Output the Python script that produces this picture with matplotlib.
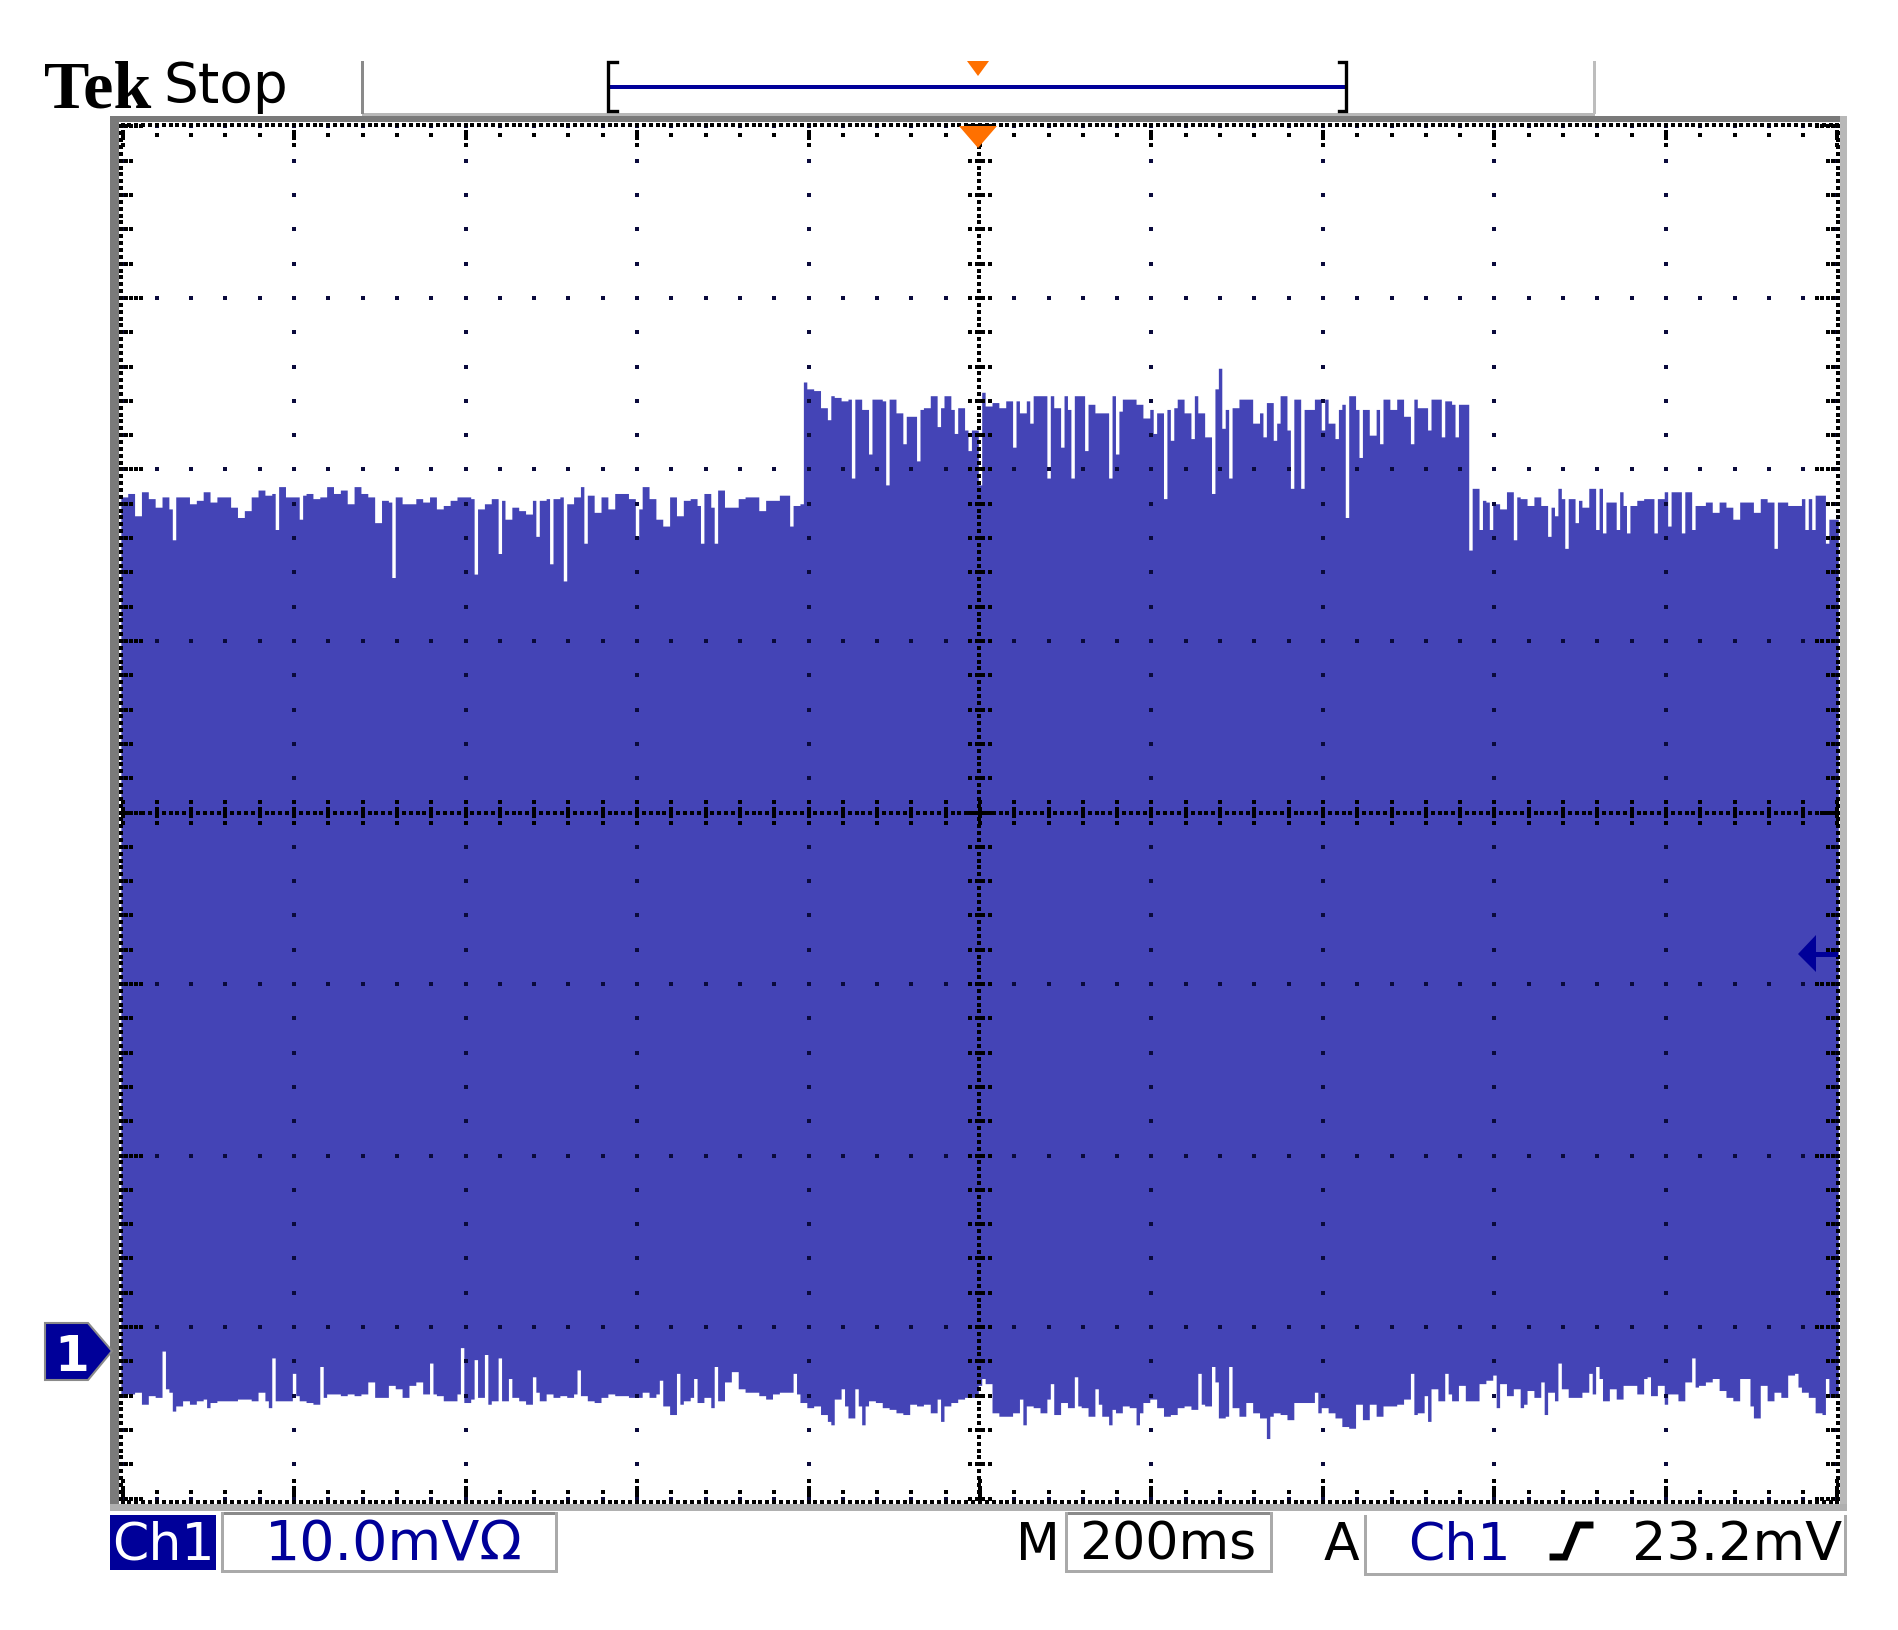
import numpy as np
import matplotlib
matplotlib.use('Agg')
import matplotlib.pyplot as plt
from matplotlib.patches import Polygon, Rectangle

# envelope of the trace, mV from screen centre, one value per 2 display columns
upper_before = [
    18.4,18.6,17.3,18.7,18.3,17.8,18.4,17.7,18.4,18.4,18.0,18.2,18.7,18.1,18.4,18.4,17.8,17.2,17.6,18.4,
    18.8,18.5,18.6,19.0,18.4,18.4,18.5,18.6,18.3,18.4,19.0,18.6,18.8,18.0,19.0,18.6,18.4,16.9,18.2,18.1,
    18.4,18.0,18.0,18.3,18.1,18.4,17.7,17.9,18.2,18.4,18.4,18.3,17.7,18.0,18.3,18.2,17.1,17.8,17.6,17.4,
    18.2,18.2,18.3,18.3,18.4,18.0,18.4,19.0,18.5,17.5,18.4,17.7,18.6,18.6,18.3,17.7,19.0,18.3,17.1,16.7,
    18.4,17.3,18.2,18.3,17.9,18.6,17.8,18.8,17.8,17.8,18.3,18.4,18.4,17.6,18.2,18.2,18.5,18.5,17.9]
upper_during = [
    25.1,24.7,24.6,23.6,24.3,24.2,24.0,24.1,24.1,23.5,24.1,24.1,24.0,24.1,23.3,23.1,23.1,23.5,23.6,24.3,
    23.6,24.3,23.5,23.6,22.3,22.3,24.5,23.7,23.9,23.6,24.0,24.0,23.3,24.0,24.3,24.3,24.3,23.6,24.3,23.5,
    24.3,24.3,23.8,23.3,23.3,24.3,23.4,24.1,24.1,23.8,23.0,23.5,23.3,23.5,23.6,24.1,23.3,24.3,23.3,21.9,
    24.7,22.4,23.5,23.6,24.1,24.1,22.7,23.3,23.9,22.7,24.3,22.7,24.1,23.5,23.5,24.1,24.1,22.7,23.5,23.8,
    24.3,23.5,23.5,22.0,23.5,24.1,23.5,24.1,23.1,24.1,23.6,23.6,24.1,24.1,24.0,23.8,23.8,23.8]
upper_after = [
    18.9,18.2,18.1,18.0,17.7,18.7,18.4,18.3,17.9,18.4,17.9,17.8,18.9,18.3,18.3,18.2,17.8,18.9,18.9,18.1,
    18.1,18.7,17.9,17.9,18.2,18.3,18.3,18.3,18.7,18.7,18.7,18.7,17.9,17.9,18.1,17.5,18.1,17.8,17.1,18.1,
    18.1,17.5,18.3,18.1,18.1,18.1,17.9,17.9,18.3,18.3,18.5,18.5,17.1]

lower_before = [
    -33.9,-33.9,-33.8,-34.5,-34.0,-34.1,-33.6,-33.8,-34.6,-34.3,-34.5,-34.3,-34.2,-34.4,-34.3,-34.3,-34.3,-34.2,-34.2,-34.3,
    -33.8,-34.3,-34.3,-34.3,-34.3,-34.0,-34.3,-34.4,-34.5,-34.1,-33.9,-33.9,-34.0,-33.9,-34.0,-33.9,-33.2,-34.1,-34.1,-33.4,
    -33.6,-34.1,-33.4,-33.2,-33.9,-33.9,-34.0,-34.3,-34.3,-33.9,-34.4,-34.2,-34.1,-34.5,-34.3,-34.3,-34.3,-34.1,-34.3,-34.5,
    -33.8,-34.3,-33.9,-34.1,-34.0,-34.1,-33.9,-34.0,-34.3,-34.4,-34.1,-33.9,-34.0,-34.0,-34.1,-34.1,-33.8,-34.1,-33.9,-34.6,
    -35.1,-34.5,-34.3,-34.1,-34.4,-34.1,-34.7,-34.3,-33.2,-32.6,-33.6,-33.8,-33.8,-34.0,-34.2,-33.9,-33.8,-33.8,-33.9,-34.4,
    -34.7,-34.6]
lower_during = [
    -35.1,-35.5,-34.2,-34.6,-35.3,-34.6,-34.6,-34.3,-34.4,-34.7,-34.8,-35.0,-35.1,-34.5,-34.6,-34.5,-35.0,-34.2,-34.6,-34.4,
    -34.2,-34.1,-34.1,-33.4,-33.3,-35.0,-35.2,-35.2,-35.0,-34.2,-34.6,-34.7,-35.0,-34.2,-35.1,-34.4,-34.7,-34.6,-34.7,-35.2,
    -34.5,-35.2,-34.8,-35.0,-34.6,-34.7,-35.0,-34.4,-34.2,-34.7,-35.2,-35.1,-34.7,-34.6,-34.8,-34.5,-34.6,-33.2,-35.3,-35.2,
    -34.7,-35.2,-34.4,-35.0,-35.3,-35.2,-35.0,-35.1,-35.4,-34.4,-34.4,-34.4,-35.0,-34.7,-35.0,-35.3,-35.8,-35.9,-34.5,-35.4,
    -34.5,-35.2,-34.6,-34.6,-34.5,-34.2,-35.1,-35.0,-34.0,-33.6,-34.3,-33.9,-34.3,-33.4,-34.3,-34.3,-33.3,-33.1,-32.8]
lower_after = [
    -33.3,-34.0,-33.6,-34.5,-33.7,-34.1,-33.2,-33.8,-34.3,-33.6,-34.1,-34.1,-33.8,-33.9,-33.0,-34.3,-33.6,-34.2,-33.4,-33.4,
    -33.9,-33.0,-34.0,-33.4,-33.9,-33.9,-34.3,-33.2,-33.5,-33.4,-33.2,-33.0,-33.7,-34.1,-34.3,-33.0,-34.6,-35.3,-33.4,-34.3,
    -33.8,-34.1,-32.8,-33.5,-33.8,-34.1,-35.0,-33.0,-34.1]

# single column spikes: display column, mV
upper_spike_col = [15,45,52,79,103,110,121,125,129,135,150,169,173,195,198,
    206,213,218,223,228,232,238,243,247,250,260,265,270,274,277,281,288,290,301,304,306,312,318,320,323,333,336,340,341,344,350,354,357,361,367,376,381,385,389,393,
    396,399,406,416,418,421,424,430,432,436,439,447,451,455,458,482,491,493,497]
upper_spike_mv = [15.9,16.5,17.1,13.7,13.9,15.1,16.1,14.5,13.5,15.7,16.1,15.7,15.7,16.7,18.0,
    22.9,19.5,20.9,19.1,21.5,20.5,22.5,22.1,21.1,19.1,21.3,22.7,19.5,21.3,19.5,21.1,19.5,20.9,22.1,18.3,21.7,21.8,18.6,25.9,19.5,21.9,21.7,22.3,18.9,18.9,22.3,21.8,17.2,20.7,21.5,21.5,22.3,21.9,21.9,15.3,
    16.5,16.5,15.9,16.1,17.3,15.4,16.9,16.5,16.3,16.5,16.3,16.3,16.7,16.3,16.5,15.4,16.5,16.5,15.7]
lower_spike_col = [12,44,50,58,90,99,103,106,110,113,120,133,157,162,167,173,196,15,25,43,160,172,
    210,214,251,271,278,284,314,318,323,348,376,386,207,216,239,263,288,296,334,381,
    401,408,415,419,428,430,445,450,458,474,477,488,496]
lower_spike_mv = [-31.4,-31.8,-32.7,-32.3,-32.1,-31.2,-31.9,-31.6,-31.8,-33.0,-32.9,-32.5,-33.1,-32.7,-33.0,-32.3,-32.7,-34.9,-34.7,-34.7,-35.1,-34.7,
    -33.6,-33.6,-33.0,-33.3,-32.9,-33.6,-32.7,-32.3,-32.3,-33.8,-32.7,-32.7,-35.7,-35.7,-35.5,-35.7,-35.7,-35.7,-36.5,-35.5,
    -34.7,-34.7,-35.1,-32.1,-32.7,-32.3,-32.9,-34.5,-31.8,-33.0,-35.3,-32.7,-35.1]

ch1_label = 'Ch1'
scale_label = '10.0mV\u03a9'
time_label = '200ms'
trigger_label = '23.2mV'

NAVY = '#000099'
TRACE = '#4444b6'
ORANGE = '#ff7000'
DOT = '#0a0a3c'
LCD_FONT = 37.5

upper = np.repeat(upper_before + upper_during + upper_after, 2)
lower = np.repeat(lower_before + lower_during + lower_after, 2)
assert len(upper) == 500, len(upper)
assert len(lower) == 500, len(lower)
upper[upper_spike_col] = upper_spike_mv
lower[lower_spike_col] = lower_spike_mv

# 4 ms per column, 200 ms/div and 10 mV/div
edges = np.arange(501) * 4.0 - 1002
edges[-1] = 1001

fig = plt.figure(figsize=(18.99, 16.31), dpi=100, facecolor='white')
ax = fig.add_axes([120 / 1899, 1 - 1503 / 1631, 1720 / 1899, 1379 / 1631])
ax.set_xlim(-1003, 1003)
ax.set_ylim(-40.2, 40.2)
ax.set_axis_off()
ax.fill_between(edges, np.append(lower, lower[-1]), np.append(upper, upper[-1]),
                step='post', color=TRACE, linewidth=0, zorder=1)

def dots(x, y, size=5.0, marker='s', color=DOT):
    x, y = np.meshgrid(x, y)
    ax.scatter(x.ravel(), y.ravel(), s=size, marker=marker, c=color, linewidths=0, zorder=3, clip_on=False)

major_x = np.arange(-1000, 1001, 200)
minor_x = np.arange(-1000, 1001, 40)
major_y = np.arange(-40, 41, 10)
minor_y = np.arange(-40, 41, 2)

# graticule
dots(major_x, minor_y)
dots(minor_x, major_y)

# centre cross, x is nudged so the dots do not straddle two pixel columns
CENTRE_SIZE = 8.0
dots([-0.6], np.arange(-40, 40.1, 0.4), size=CENTRE_SIZE, color='black')
dots(np.arange(-1000, 1000.1, 8), [0], size=CENTRE_SIZE, color='black')
for off in [-12, -4, 4, 12]:
    dots([off], minor_y, color='black')
for off in [-0.6, -0.2, 0.2, 0.6]:
    dots(minor_x, [off], color='black')

# border rows with their ticks
for y_edge, sign in [(40.1, -1), (-40.2, 1)]:
    dots(np.arange(-1000, 1000.1, 8), [y_edge], color='black')
    dots(minor_x, [y_edge + sign * 0.6], color='black')
    dots(major_x, [y_edge + sign * 0.4, y_edge + sign * 0.8, y_edge + sign * 1.2], color='black')
for x_edge, sign in [(-1002, 1), (1000.5, -1)]:
    dots([x_edge], np.arange(-40, 40.1, 0.4), color='black')
    dots([x_edge + sign * 6, x_edge + sign * 12], minor_y, color='black')
    dots([x_edge + sign * 18, x_edge + sign * 24], major_y, color='black')

# everything around the screen, in pixels of the picture
chrome = fig.add_axes([0, 0, 1, 1], zorder=5)
chrome.set_xlim(0, 1899)
chrome.set_ylim(1631, 0)
chrome.set_axis_off()
chrome.patch.set_alpha(0)

def box(x0, y0, x1, y1, color):
    chrome.add_patch(Rectangle((x0, y0), x1 - x0, y1 - y0, facecolor=color, edgecolor='none'))

# screen frame
box(362, 114, 1595, 118, '#b8b8b8')
box(110, 117, 1847, 123, '#7a7a7a')
box(110, 117, 119, 1512, '#7a7a7a')
box(1840, 117, 1847, 1512, '#b8b8b8')
box(110, 1505, 1847, 1512, '#b0b0b0')

# top bar
box(361, 62, 364, 115, '#8a8a8a')
box(1593, 62, 1596, 115, '#bdbdbd')
chrome.plot([617, 608, 608, 617], [63, 63, 112, 112], color='black', lw=2.4, solid_joinstyle='miter')
chrome.plot([1339, 1346, 1346, 1339], [63, 63, 112, 112], color='black', lw=2.4, solid_joinstyle='miter')
box(608, 85.5, 1346, 90, NAVY)
chrome.add_patch(Polygon([(967, 62), (989, 62), (978, 77)], facecolor=ORANGE, edgecolor='none'))
chrome.add_patch(Polygon([(959, 127), (997, 127), (978, 149)], facecolor=ORANGE, edgecolor='none'))

chrome.text(44, 108, 'Tek', family='Liberation Serif', fontweight='bold', fontsize=49, color='black', va='baseline')
chrome.text(163, 102, 'Stop', family='DejaVu Sans', fontsize=39.5, color='black', va='baseline')

# channel marker and reference arrow
chrome.add_patch(Polygon([(45, 1324), (88, 1324), (112, 1352), (88, 1381), (45, 1381)],
                         facecolor=NAVY, edgecolor='#8a8a8a', linewidth=1.5))
chrome.text(72, 1371, '1', family='DejaVu Sans', fontweight='bold', fontsize=36, color='white', ha='center', va='baseline')
chrome.add_patch(Polygon([(1798, 955), (1816, 936), (1816, 973)], facecolor=NAVY, edgecolor='none'))
box(1814, 952.5, 1838, 957.5, NAVY)

# readouts
box(110, 1516, 216, 1571, NAVY)
chrome.text(163, 1560, ch1_label, family='DejaVu Sans', fontsize=LCD_FONT, color='white', ha='center', va='baseline')

box(221, 1513, 557, 1516, '#8a8a8a')
box(221, 1513, 224, 1573, '#aaaaaa')
box(555, 1513, 558, 1573, '#aaaaaa')
box(221, 1571, 558, 1574, '#aaaaaa')
chrome.text(394, 1560, scale_label, family='DejaVu Sans', fontsize=40, color=NAVY, ha='center', va='baseline')

chrome.text(1038, 1560, 'M', family='DejaVu Sans', fontsize=LCD_FONT - 1, color='black', ha='center', va='baseline')
box(1065, 1513, 1272, 1516, '#8a8a8a')
box(1065, 1513, 1068, 1573, '#aaaaaa')
box(1270, 1513, 1273, 1573, '#aaaaaa')
box(1065, 1571, 1273, 1574, '#aaaaaa')
chrome.text(1168, 1560, time_label, family='DejaVu Sans', fontsize=LCD_FONT, color='black', ha='center', va='baseline')

chrome.text(1341, 1560, 'A', family='DejaVu Sans', fontsize=LCD_FONT, color='black', ha='center', va='baseline')
box(1364, 1516, 1367, 1577, '#aaaaaa')
box(1844, 1516, 1847, 1577, '#aaaaaa')
box(1364, 1574, 1847, 1577, '#aaaaaa')
chrome.text(1459, 1560, ch1_label, family='DejaVu Sans', fontsize=LCD_FONT, color=NAVY, ha='center', va='baseline')
chrome.plot([1553, 1565, 1578, 1590], [1558, 1558, 1526, 1526], color='black', lw=5, solid_joinstyle='miter')
chrome.text(1737, 1560, trigger_label, family='DejaVu Sans', fontsize=39, color='black', ha='center', va='baseline')

fig.savefig('out.png', dpi=100)
